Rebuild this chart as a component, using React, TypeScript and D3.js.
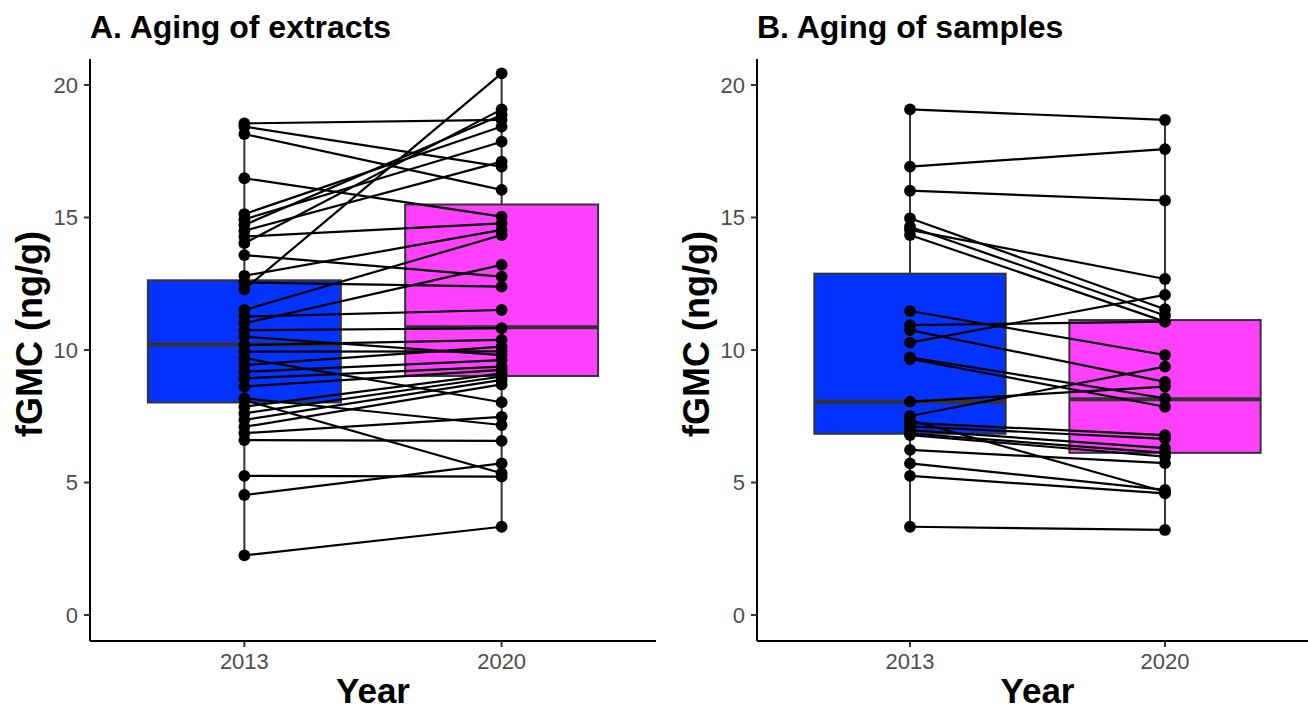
import * as d3 from 'd3'

// ── data, paired by index: 2013[i] → 2020[i] ──
const years = ['2013', '2020']
const yTicks = [0, 5, 10, 15, 20]

const extracts2013 = [18.55, 18.43, 18.15, 16.48, 15.13, 14.93, 14.72, 14.5, 14.28, 14.03, 13.58, 12.8, 12.55, 12.29, 11.51, 11.26, 11.01, 10.75, 10.5, 10.19, 9.94, 9.69, 9.43, 9.18, 8.93, 8.62, 8.18, 8.11, 7.86, 7.61, 7.36, 7.1, 6.86, 6.6, 5.25, 4.53, 2.25]
const extracts2020 = [18.68, 16.92, 16.04, 15.03, 18.43, 17.86, 18.87, 17.11, 14.78, 19.08, 12.77, 14.53, 12.39, 20.44, 14.34, 11.51, 13.21, 10.82, 9.81, 10.38, 9.95, 8.03, 10.13, 9.62, 9.37, 9.25, 7.17, 5.35, 9.12, 9.0, 8.87, 8.7, 7.48, 6.57, 5.22, 5.72, 3.33]

const samples2013 = [19.08, 16.92, 16.01, 14.97, 14.65, 14.53, 14.34, 11.47, 10.94, 10.75, 10.28, 9.72, 9.66, 8.05, 7.51, 7.36, 7.25, 7.12, 6.98, 6.85, 6.79, 6.23, 5.72, 5.25, 3.33]
const samples2020 = [18.68, 17.58, 15.64, 11.54, 11.3, 12.68, 11.07, 9.81, 11.07, 8.8, 12.08, 8.18, 7.86, 8.62, 9.37, 4.65, 6.79, 6.65, 6.3, 6.12, 5.98, 5.73, 4.72, 4.59, 3.21]

// box hinges per year [2013, 2020]
const extractsQ1 = [8.02, 9.02]
const extractsMed = [10.21, 10.86]
const extractsQ3 = [12.63, 15.49]
const samplesQ1 = [6.84, 6.12]
const samplesMed = [8.05, 8.14]
const samplesQ3 = [12.88, 11.13]

const boxFill = ['#0433FF', '#FF40FF']
const FONT = '"Liberation Sans", Arial, Helvetica, sans-serif'

const W = 1308, H = 711
const y = d3.scaleLinear().domain([-0.98, 20.98]).range([641, 59])

type PanelProps = {
  title: string
  x0: number
  x1: number
  a: number[]
  b: number[]
  q1: number[]
  med: number[]
  q3: number[]
}

function Panel({ title, x0, x1, a, b, q1, med, q3 }: PanelProps) {
  const x = d3.scalePoint<string>().domain(years).range([x0, x1]).padding(0.6)
  const bw = x.step() * 0.75
  const cols = [a, b]
  const yb = y.range()[0]
  const yt = y.range()[1]
  return (
    <g>
      {/* boxes */}
      {years.map((yr, i) => {
        const cx = x(yr)!
        const lo = d3.min(cols[i])!, hi = d3.max(cols[i])!
        return (
          <g key={yr}>
            <line x1={cx} x2={cx} y1={y(q3[i])} y2={y(hi)} stroke="#333" strokeWidth={2} />
            <line x1={cx} x2={cx} y1={y(q1[i])} y2={y(lo)} stroke="#333" strokeWidth={2} />
            <rect x={cx - bw / 2} y={y(q3[i])} width={bw} height={y(q1[i]) - y(q3[i])}
              fill={boxFill[i]} stroke="#333" strokeWidth={2} />
            <line x1={cx - bw / 2} x2={cx + bw / 2} y1={y(med[i])} y2={y(med[i])} stroke="#333" strokeWidth={4} />
          </g>
        )
      })}
      {/* paired lines */}
      {a.map((v, i) => (
        <line key={'l' + i} x1={x(years[0])} x2={x(years[1])} y1={y(v)} y2={y(b[i])} stroke="#000" strokeWidth={2.2} />
      ))}
      {/* points */}
      {cols.map((col, j) => col.map((v, i) => (
        <circle key={`p${j}-${i}`} cx={x(years[j])} cy={y(v)} r={5.9} fill="#000" />
      )))}
      {/* axes */}
      <line x1={x0} x2={x1} y1={yb} y2={yb} stroke="#000" strokeWidth={2} />
      <line x1={x0} x2={x0} y1={yt} y2={yb} stroke="#000" strokeWidth={2} />
      {yTicks.map(t => (
        <g key={t}>
          <line x1={x0 - 6} x2={x0} y1={y(t)} y2={y(t)} stroke="#333" strokeWidth={2} />
          <text x={x0 - 12} y={y(t)} dy="0.36em" textAnchor="end" fontSize={22} fill="#4d4d4d" fontFamily={FONT}>{t}</text>
        </g>
      ))}
      {years.map(yr => (
        <g key={yr}>
          <line x1={x(yr)} x2={x(yr)} y1={yb} y2={yb + 6} stroke="#333" strokeWidth={2} />
          <text x={x(yr)} y={yb + 28} textAnchor="middle" fontSize={22} fill="#4d4d4d" fontFamily={FONT}>{yr}</text>
        </g>
      ))}
      <text x={(x0 + x1) / 2} y={703} textAnchor="middle" fontSize={35} fontWeight="bold" fontFamily={FONT}>Year</text>
      <text transform={`translate(${x0 - 48},${(yt + yb) / 2 - 16}) rotate(-90)`} textAnchor="middle" fontSize={36}
        fontWeight="bold" fontFamily={FONT}>fGMC (ng/g)</text>
      <text x={x0} y={38} fontSize={32} fontWeight="bold" fontFamily={FONT}>{title}</text>
    </g>
  )
}

export default function App() {
  return (
    <svg width={W} height={H} style={{ position: 'absolute', left: 0, top: 0, background: '#fff' }}>
      <rect width={W} height={H} fill="#fff" />
      <Panel title="A. Aging of extracts" x0={90} x1={656} a={extracts2013} b={extracts2020}
        q1={extractsQ1} med={extractsMed} q3={extractsQ3} />
      <Panel title="B. Aging of samples" x0={757} x1={1318} a={samples2013} b={samples2020}
        q1={samplesQ1} med={samplesMed} q3={samplesQ3} />
    </svg>
  )
}
